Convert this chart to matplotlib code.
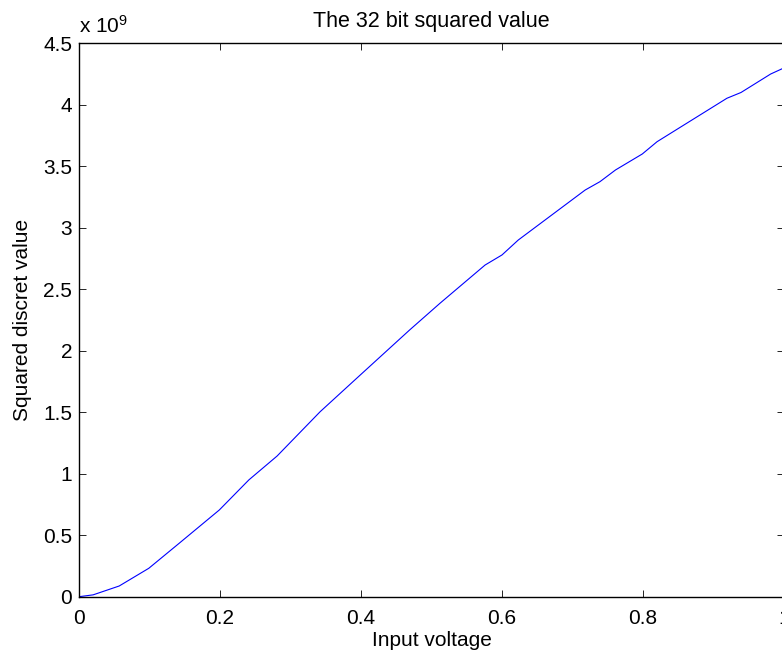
import matplotlib
matplotlib.use("Agg")
import matplotlib.pyplot as plt
import numpy as np

# values (voltage, squared value / 1e9)
voltage = [0.0, 0.02, 0.057, 0.099, 0.142, 0.199, 0.241, 0.281, 0.342, 0.399,
           0.469, 0.512, 0.576, 0.600, 0.623, 0.718, 0.739, 0.761, 0.799,
           0.820, 0.919, 0.939, 0.981, 1.0]
squared = [0.0, 0.015, 0.087, 0.231, 0.434, 0.705, 0.950, 1.144, 1.504, 1.803,
           2.169, 2.386, 2.697, 2.779, 2.900, 3.307, 3.375, 3.470, 3.600,
           3.700, 4.053, 4.100, 4.250, 4.300]

xticks = [0, 0.2, 0.4, 0.6, 0.8, 1]
xticklabels = ["0", "0.2", "0.4", "0.6", "0.8", "1"]
yticks = [0, 0.5, 1, 1.5, 2, 2.5, 3, 3.5, 4, 4.5]
yticklabels = ["0", "0.5", "1", "1.5", "2", "2.5", "3", "3.5", "4", "4.5"]

plt.rcParams['font.family'] = ['Liberation Sans', 'DejaVu Sans']
plt.rcParams['mathtext.fontset'] = 'custom'
plt.rcParams['mathtext.rm'] = 'Liberation Sans'
plt.rcParams['mathtext.default'] = 'rm'

fig = plt.figure(figsize=(7.82, 6.53), dpi=100)
ax = fig.add_axes([79 / 782, 56.3 / 653, 705 / 782, 553.4 / 653])

ax.plot(voltage, squared, color=(0, 0, 1), lw=0.8)

ax.set_xlim(0, 1)
ax.set_ylim(0, 4.5)
ax.set_xticks(xticks)
ax.set_xticklabels(xticklabels)
ax.set_yticks(yticks)
ax.set_yticklabels(yticklabels)
ax.tick_params(direction='in', length=5, width=0.6, labelsize=15,
               top=True, right=True, pad=5)
ax.tick_params(axis='x', pad=9)
for s in ax.spines.values():
    s.set_linewidth(1.0)

ax.set_title("The 32 bit squared value", fontsize=15.5, pad=12)
ax.set_xlabel("Input voltage", fontsize=15, labelpad=2)
ax.set_ylabel("Squared discret value", fontsize=15, labelpad=8)

ax.text(0.0, 1.012, r"x 10$^{9}$", transform=ax.transAxes, fontsize=15,
        ha='left', va='bottom')

fig.savefig("out.png", dpi=100)
